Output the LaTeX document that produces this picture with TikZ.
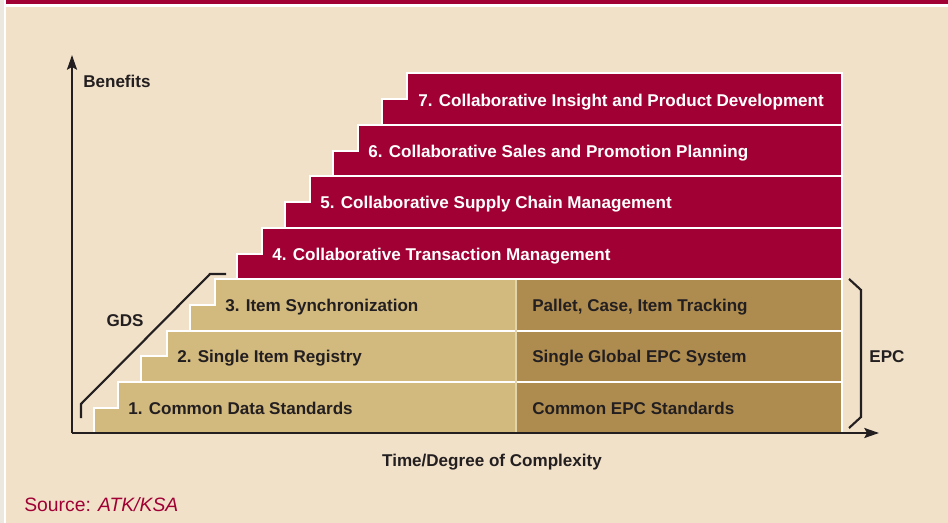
\documentclass[tikz,border=0pt]{standalone}
\usepackage{fontspec}
\setmainfont{Liberation Sans}
\usetikzlibrary{arrows.meta}
\definecolor{bg}{RGB}{241,225,201}
\definecolor{stripgray}{RGB}{236,232,224}
\definecolor{crimson}{RGB}{160,0,52}
\definecolor{tanlight}{RGB}{210,185,126}
\definecolor{tandark}{RGB}{174,140,80}
\definecolor{tanline}{RGB}{228,212,172}
\definecolor{ink}{RGB}{35,31,32}
\newcommand\stairstep[5]{%
  \fill[#5, draw=white, line width=1.5pt, line join=miter]
    (#1,#4) -- (#1,{(#3+#4)/2}) -- (#2,{(#3+#4)/2}) -- (#2,#3) -- (842,#3) -- (842,#4) -- cycle;}
\begin{document}
\begin{tikzpicture}[x=0.75pt,y=-0.75pt,
  steptext/.style={anchor=west, font=\fontsize{12.8}{14}\selectfont\bfseries, inner sep=0pt, text height=9.2pt, text depth=0pt},
  redtext/.style={steptext, text=white},
  tantext/.style={steptext, text=ink},
  axislabel/.style={font=\fontsize{12.8}{14}\selectfont\bfseries, text=ink, inner sep=0pt, text height=9.2pt, text depth=0pt},
  axisline/.style={draw=ink, line width=1.6pt, -{Stealth[length=11pt,width=7.5pt,inset=2pt]}},
  bracket/.style={draw=ink, line width=1.6pt, line join=miter}]
\useasboundingbox (0,0) rectangle (948,523);
\fill[stripgray] (0,0) rectangle (4,523);
\fill[white] (4,0) rectangle (948,523);
\fill[bg] (6,7) rectangle (948,523);
\fill[crimson] (6,0) rectangle (948,4);
% steps, top to bottom
\stairstep{382}{407}{73}{125}{crimson}
\stairstep{333}{358}{125}{176.5}{crimson}
\stairstep{285}{310}{176.5}{228}{crimson}
\stairstep{237}{262}{228}{279.5}{crimson}
\stairstep{190}{215}{279.5}{331}{tanlight}
\stairstep{141}{167}{331}{382}{tanlight}
\stairstep{94}{118}{382}{433}{tanlight}
% EPC dark part
\fill[tandark] (517,280.5) rectangle (841,330);
\fill[tandark] (517,332) rectangle (841,381);
\fill[tandark] (517,383) rectangle (841,433);
\draw[tanline, line width=0.8pt] (516,280.5) -- (516,433);
% texts
\node[redtext] (s7) at (418,100) {7. Collaborative Insight and Product Development};
\node[redtext] (s6) at (368,151) {6. Collaborative Sales and Promotion Planning};
\node[redtext] (s5) at (320,202) {5. Collaborative Supply Chain Management};
\node[redtext] (s4) at (272,254) {4. Collaborative Transaction Management};
\node[tantext] (s3) at (225,305) {3. Item Synchronization};
\node[tantext] (s2) at (177,356) {2. Single Item Registry};
\node[tantext] (s1) at (128,408) {1. Common Data Standards};
\node[tantext] (e3) at (532,305) {Pallet, Case, Item Tracking};
\node[tantext] (e2) at (532,356) {Single Global EPC System};
\node[tantext] (e1) at (532,408) {Common EPC Standards};
% axes
\coordinate (origin) at (72,433);
\coordinate (ytip) at (72,55);
\coordinate (xtip) at (879,433);
\draw[axisline] (origin) -- (ytip);
\draw[axisline] (origin) -- (xtip);
\node[axislabel, anchor=west] (benefits) at (83,81) {Benefits};
\node[axislabel] (time) at (492,460) {Time/Degree of Complexity};
% GDS bracket
\coordinate (g1) at (81,418);
\coordinate (g2) at (81,404);
\coordinate (g3) at (210,274);
\coordinate (g4) at (226,274);
\draw[bracket] (g1) -- (g2) -- (g3) -- (g4);
\node[axislabel] (gds) at (125,320) {GDS};
% EPC bracket
\coordinate (b1) at (849,279);
\coordinate (b2) at (861,290);
\coordinate (b3) at (861,417);
\coordinate (b4) at (849,428);
\draw[bracket] (b1) -- (b2) -- (b3) -- (b4);
\node[axislabel] (epc) at (887,356) {EPC};
% source
\node[anchor=west, inner sep=0pt, text=crimson, font=\fontsize{14.5}{16}\selectfont, text height=10.4pt, text depth=0pt] (src) at (24,505) {Source: \textit{ATK/KSA}};
\end{tikzpicture}
\end{document}
